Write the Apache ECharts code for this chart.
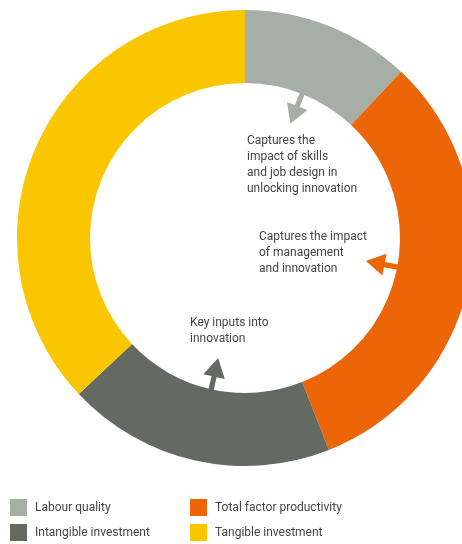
<!DOCTYPE html>
<html>
<head>
<meta charset="utf-8">
<script src="https://cdn.jsdelivr.net/npm/echarts@6/dist/echarts.min.js"></script>
<style>
  html, body { margin: 0; padding: 0; background: #fff; }
  #chart { width: 462px; height: 544px; }
</style>
</head>
<body>
<div id="chart"></div>
<script>
// Sources of productivity growth (share of the ring)
const categories = ['Labour quality', 'Total factor productivity', 'Intangible investment', 'Tangible investment'];
const shares = [12, 32, 19, 37];
const colors = ['#a6afa6', '#ec6608', '#646a62', '#f9c600'];
// Which segments point an arrow at a note inside the ring
const hasArrow = [true, true, true, false];
const notes = [
  'Captures the\nimpact of skills\nand job design in\nunlocking innovation',
  'Captures the impact\nof management\nand innovation',
  'Key inputs into\ninnovation'
];

const CX = 245, CY = 238, R_IN = 155, R_OUT = 228;
const TEXT = '#454545';
const FONT = 'Roboto, "Liberation Sans", sans-serif';

// point at a clockwise angle from 12 o'clock, radius r, sideways offset s
function pt(a, r, s) {
  const t = a * Math.PI / 180;
  return [CX + r * Math.sin(t) + s * Math.cos(t), CY - r * Math.cos(t) + s * Math.sin(t)];
}

// arrows sit on each segment's mid angle, pointing toward the centre
const total = shares.reduce((a, b) => a + b, 0);
const graphics = [];
let acc = 0;
shares.forEach((v, i) => {
  const mid = (acc + v / 2) / total * 360;
  acc += v;
  if (!hasArrow[i]) return;
  const rBase = R_IN + 3, rHead = 142, rTip = 123, sw = 2.6, hw = 11;
  graphics.push({
    type: 'polygon',
    shape: { points: [
      pt(mid, rBase, -sw), pt(mid, rHead, -sw), pt(mid, rHead, -hw),
      pt(mid, rTip, 0), pt(mid, rHead, hw), pt(mid, rHead, sw), pt(mid, rBase, sw)
    ] },
    style: { fill: colors[i] },
    z: 10
  });
});

const notePos = [[247, 133], [259, 229], [190, 315]];
notes.forEach((t, i) => {
  graphics.push({
    type: 'text',
    x: notePos[i][0], y: notePos[i][1],
    style: { text: t, fill: TEXT, font: '12px ' + FONT, lineHeight: 16, verticalAlign: 'top' },
    z: 10
  });
});

const legendBase = {
  orient: 'vertical', top: 499, itemWidth: 17, itemHeight: 17, itemGap: 8,
  padding: 0, icon: 'rect', selectedMode: false,
  textStyle: {
    fontSize: 12, fontFamily: FONT, color: TEXT,
    verticalAlign: 'top', lineHeight: 10, padding: [0, 0, 0, 3]
  }
};

const chart = echarts.init(document.getElementById('chart'), null, { renderer: 'canvas' });
chart.setOption({
  animation: false,
  color: colors,
  legend: [
    Object.assign({}, legendBase, { left: 10, data: [categories[0], categories[2]] }),
    Object.assign({}, legendBase, { left: 190, data: [categories[1], categories[3]] })
  ],
  series: [{
    type: 'pie',
    center: [CX, CY],
    radius: [R_IN, R_OUT],
    startAngle: 90,
    clockwise: true,
    label: { show: false },
    labelLine: { show: false },
    emphasis: { disabled: true },
    itemStyle: { borderWidth: 0 },
    data: categories.map((c, i) => ({ name: c, value: shares[i] }))
  }],
  graphic: graphics
});
</script>
</body>
</html>
